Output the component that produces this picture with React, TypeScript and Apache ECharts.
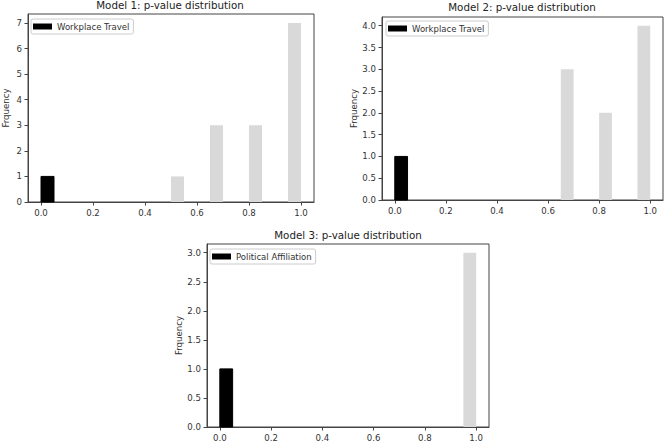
import React, { useEffect, useRef } from "react";
import * as echarts from "echarts";

// ---- data ----
const titles = [
  "Model 1: p-value distribution",
  "Model 2: p-value distribution",
  "Model 3: p-value distribution",
];
const legendNames = ["Workplace Travel", "Workplace Travel", "Political Affiliation"];
const yAxisName = "Frquency";
const binWidth = 0.05;

const m1HighlightBins = [0.0];
const m1HighlightCounts = [1];
const m1OtherBins = [0.5, 0.65, 0.8, 0.95];
const m1OtherCounts = [1, 3, 3, 7];

const m2HighlightBins = [0.0];
const m2HighlightCounts = [1];
const m2OtherBins = [0.65, 0.8, 0.95];
const m2OtherCounts = [3, 2, 4];

const m3HighlightBins = [0.0];
const m3HighlightCounts = [1];
const m3OtherBins = [0.95];
const m3OtherCounts = [3];

const xTicks = [0, 0.2, 0.4, 0.6, 0.8, 1.0];
const y1Ticks = [0, 1, 2, 3, 4, 5, 6, 7];
const y2Ticks = [0, 0.5, 1, 1.5, 2, 2.5, 3, 3.5, 4];
const y3Ticks = [0, 0.5, 1, 1.5, 2, 2.5, 3];
const yMaxes = [7.35, 4.2, 3.15];

const FONT = "DejaVu Sans";

function toRects(bins: number[], counts: number[]) {
  return bins.map((b, i) => [b, b + binWidth, counts[i]]);
}

const renderRect = (fill: string, stroke: string | null) => (params: any, api: any) => {
  const p0 = api.coord([api.value(0), 0]);
  const p1 = api.coord([api.value(1), api.value(2)]);
  return {
    type: "rect",
    shape: { x: p0[0], y: p1[1], width: p1[0] - p0[0], height: p0[1] - p1[1] },
    style: { fill, stroke: stroke || undefined, lineWidth: stroke ? 1 : 0 },
  };
};

export default function App() {
  const ref = useRef<HTMLDivElement>(null);
  useEffect(() => {
    if (!ref.current) return;
    const chart = echarts.init(ref.current, undefined, { renderer: "svg" });

    const grids = [
      { left: 26, top: 14, width: 288, height: 188 },
      { left: 382, top: 17, width: 281, height: 183 },
      { left: 207, top: 244, width: 282, height: 183 },
    ];
    const yTicksList = [y1Ticks, y2Ticks, y3Ticks];
    const yFormat = [
      (v: number) => String(Math.round(v)),
      (v: number) => v.toFixed(1),
      (v: number) => v.toFixed(1),
    ];
    const nameGaps = [18, 24, 24];
    const titlePos = [
      { x: 170, y: 0 },
      { x: 522, y: 2 },
      { x: 348, y: 230 },
    ];
    const legendPos = [
      { left: 31, top: 19 },
      { left: 386, top: 21 },
      { left: 210, top: 249 },
    ];
    const highlight = [
      toRects(m1HighlightBins, m1HighlightCounts),
      toRects(m2HighlightBins, m2HighlightCounts),
      toRects(m3HighlightBins, m3HighlightCounts),
    ];
    const others = [
      toRects(m1OtherBins, m1OtherCounts),
      toRects(m2OtherBins, m2OtherCounts),
      toRects(m3OtherBins, m3OtherCounts),
    ];

    const axisColor = "#444";
    const labelColor = "#333";

    const option: any = {
      animation: false,
      title: titles.map((t, i) => ({
        text: t,
        left: titlePos[i].x,
        top: titlePos[i].y,
        textAlign: "center",
        padding: 0,
        textStyle: { fontFamily: FONT, fontSize: 10.3, fontWeight: "normal", color: "#222" },
      })),
      grid: grids.map((g) => ({
        ...g,
        show: true,
        borderColor: axisColor,
        borderWidth: 1,
        backgroundColor: "#fff",
      })),
      legend: legendNames.map((n, i) => ({
        data: [{ name: n + (i === 2 ? "" : ""), itemStyle: { color: "#000" } }],
        left: legendPos[i].left,
        top: legendPos[i].top,
        orient: "vertical",
        icon: "rect",
        itemWidth: 19,
        itemHeight: 6,
        padding: [3, 4, 3, 2],
        borderColor: "#ccc",
        borderWidth: 1,
        borderRadius: 2,
        selectedMode: false,
        textStyle: { fontFamily: FONT, fontSize: 8.5, color: "#333" },
      })),
      xAxis: grids.map((_, i) => ({
        type: "value",
        gridIndex: i,
        min: -0.05,
        max: 1.05,
        splitLine: { show: false },
        axisLine: { show: true, onZero: false, lineStyle: { color: axisColor } },
        axisTick: {
          show: true,
          inside: false,
          length: 3.5,
          customValues: xTicks,
          lineStyle: { color: axisColor },
        },
        axisLabel: {
          customValues: xTicks,
          formatter: (v: number) => v.toFixed(1),
          margin: 6,
          fontFamily: FONT,
          fontSize: 8.6,
          color: labelColor,
        },
      })),
      yAxis: grids.map((_, i) => ({
        type: "value",
        gridIndex: i,
        min: 0,
        max: yMaxes[i],
        name: yAxisName,
        nameLocation: "middle",
        nameRotate: 90,
        nameGap: nameGaps[i],
        nameTextStyle: { fontFamily: FONT, fontSize: 8.6, color: labelColor },
        splitLine: { show: false },
        axisLine: { show: true, onZero: false, lineStyle: { color: axisColor } },
        axisTick: {
          show: true,
          inside: false,
          length: 3.5,
          customValues: yTicksList[i],
          lineStyle: { color: axisColor },
        },
        axisLabel: {
          customValues: yTicksList[i],
          formatter: yFormat[i],
          margin: 6,
          fontFamily: FONT,
          fontSize: 8.6,
          color: labelColor,
        },
      })),
      series: [
        ...others.map((d, i) => ({
          type: "custom",
          name: "other" + i,
          xAxisIndex: i,
          yAxisIndex: i,
          data: d,
          encode: { x: [0, 1], y: 2 },
          renderItem: renderRect("#d9d9d9", null),
          itemStyle: { color: "#d9d9d9" },
        })),
        ...highlight.map((d, i) => ({
          type: "custom",
          name: legendNames[i],
          xAxisIndex: i,
          yAxisIndex: i,
          data: d,
          encode: { x: [0, 1], y: 2 },
          renderItem: renderRect("#000", "#000"),
          itemStyle: { color: "#000" },
        })),
      ],
    };
    chart.setOption(option);
    return () => chart.dispose();
  }, []);
  return (
    <div
      ref={ref}
      style={{ position: "fixed", left: 0, top: 0, width: 666, height: 442, background: "#fff" }}
    />
  );
}
